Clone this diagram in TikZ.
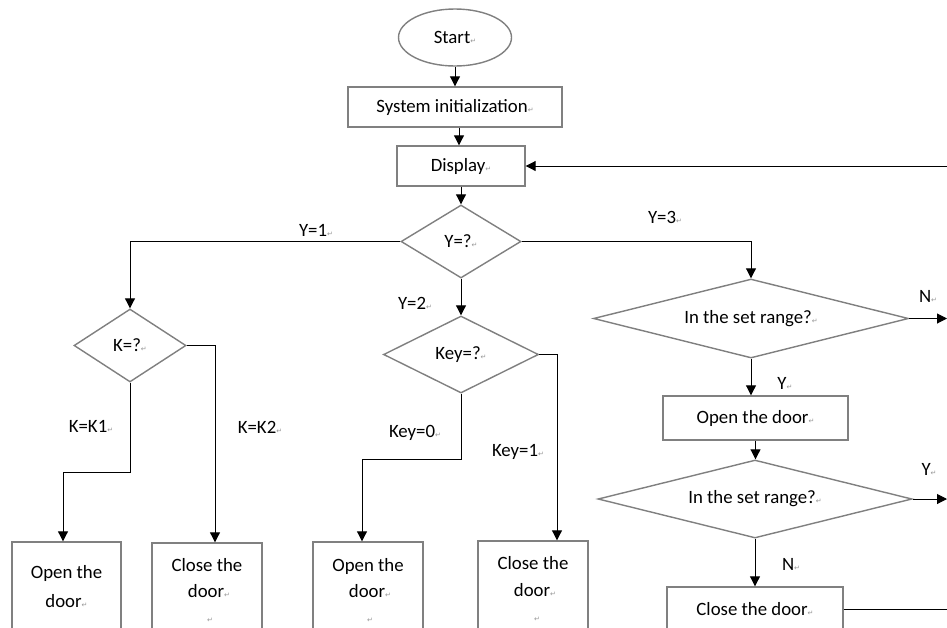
\documentclass[tikz,border=0pt]{standalone}
\usepackage{fontspec}
\setmainfont{Carlito}
\newfontfamily\dejavu{DejaVu Sans}
\usetikzlibrary{shapes.geometric,arrows.meta}
\definecolor{bord}{RGB}{128,128,128}
\definecolor{markc}{RGB}{150,150,150}
\newcommand{\rmk}{{\dejavu\fontsize{7}{7}\selectfont\color{markc}↵}}
\begin{document}
\begin{tikzpicture}[x=1pt,y=-1pt,
  font=\fontsize{18.8}{21}\selectfont,
  proc/.style={draw=bord,line width=1.4pt,rectangle,inner sep=0pt},
  term/.style={draw=bord,line width=1.4pt,ellipse,inner sep=0pt},
  dec/.style={draw=bord,line width=1.4pt,diamond,inner sep=0pt},
  txt/.style={inner sep=0pt},
  arr/.style={line width=1pt,-{Triangle[width=10pt,length=10pt]}},
  conn/.style={line width=1pt}]
\clip (0,0) rectangle (947,627);
\fill[white] (0,0) rectangle (947,627);
% nodes
\node[term,minimum width=113pt,minimum height=57pt] (start) at (455,37.5) {Start\rmk};
\node[proc,minimum width=214pt,minimum height=40pt] (init) at (455,107) {System initialization\rmk};
\node[proc,minimum width=128pt,minimum height=40pt] (disp) at (461,166) {Display\rmk};
\node[dec,aspect=1.644,minimum width=120pt,minimum height=73pt] (Y) at (461,241.5) {Y=?\rmk};
\node[dec,aspect=1.534,minimum width=112pt,minimum height=73pt] (K) at (130,345.5) {K=?\rmk};
\node[dec,aspect=2.013,minimum width=155pt,minimum height=77pt] (Key) at (461,354.5) {Key=?\rmk};
\node[dec,aspect=3.987,minimum width=315pt,minimum height=79pt] (R1) at (751,318.5) {In the set range?\rmk};
\node[proc,minimum width=185pt,minimum height=44pt] (O3) at (755.5,418) {Open the door\rmk};
\node[dec,aspect=4.026,minimum width=314pt,minimum height=78pt] (R2) at (755,499) {In the set range?\rmk};
\node[proc,minimum width=176pt,minimum height=44pt] (C3) at (755,609) {Close the door\rmk};
% bottom boxes
\node[proc,minimum width=109pt,minimum height=110pt] (O1) at (66.5,597) {};
\node[proc,minimum width=110pt,minimum height=110pt] (C1) at (207,598) {};
\node[proc,minimum width=110pt,minimum height=110pt] (O2) at (368,597) {};
\node[proc,minimum width=110pt,minimum height=110pt] (C2) at (533,596) {};
\node[txt] (O1a) at (66.5,573) {Open the};
\node[txt] (O1b) at (66.5,601) {door\rmk};
\node[txt] (C1a) at (207,565) {Close the};
\node[txt] (C1b) at (209,591) {door\rmk};
\node[txt] (C1c) at (210,620) {\rmk};
\node[txt] (O2a) at (368,566) {Open the};
\node[txt] (O2b) at (370,591) {door\rmk};
\node[txt] (O2c) at (370,620) {\rmk};
\node[txt] (C2a) at (533,563) {Close the};
\node[txt] (C2b) at (535,590) {door\rmk};
\node[txt] (C2c) at (537,619) {\rmk};
% labels
\node[txt] (lY1) at (316,230) {Y=1\rmk};
\node[txt] (lY3) at (665,217) {Y=3\rmk};
\node[txt] (lY2) at (415,303) {Y=2\rmk};
\node[txt] (lK1) at (91,426) {K=K1\rmk};
\node[txt] (lK2) at (260,427) {K=K2\rmk};
\node[txt] (lK0) at (415,433) {Key=0\rmk};
\node[txt] (lKe1) at (518,452) {Key=1\rmk};
\node[txt] (lN1) at (928,296) {N\rmk};
\node[txt] (lYa) at (785,383) {Y\rmk};
\node[txt] (lYb) at (929,469) {Y\rmk};
\node[txt] (lN2) at (791,564) {N\rmk};
% coordinates
\coordinate (ret) at (947,166);
\coordinate (k1) at (215,345.5);
\coordinate (k2) at (63,472);
\coordinate (q1) at (557,354.5);
\coordinate (q2) at (362,459);
\coordinate (e1) at (947,318.5);
\coordinate (e2) at (947,499);
\coordinate (e3) at (955,609);
\coordinate (a1) at (459,0);
% connectors
\draw[arr] (start) -- (init);
\draw[arr] (init.south -| a1) -- (disp.north -| a1);
\draw[arr] (disp) -- (Y);
\draw[arr] (ret) -- (disp.east);
\draw[arr] (Y.west) -| (K.north);
\draw[arr] (Y.east) -| (R1.north);
\draw[arr] (Y) -- (Key);
\draw[arr] (K.east) -- (k1) -- (k1 |- C1.north);
\draw[arr] (K.south) |- (k2) -- (k2 |- O1.north);
\draw[arr] (Key.east) -- (q1) -- (q1 |- C2.north);
\draw[arr] (Key.south) |- (q2) -- (q2 |- O2.north);
\draw[arr] (R1.south) -- (R1.south |- O3.north);
\draw[arr] (O3.south) -- (O3.south |- R2.north);
\draw[arr] (R2.south) -- (R2.south |- C3.north);
\draw[arr] (R1.east) -- (e1);
\draw[arr] (R2.east) -- (e2);
\draw[conn] (C3.east) -- (e3);
\end{tikzpicture}
\end{document}
